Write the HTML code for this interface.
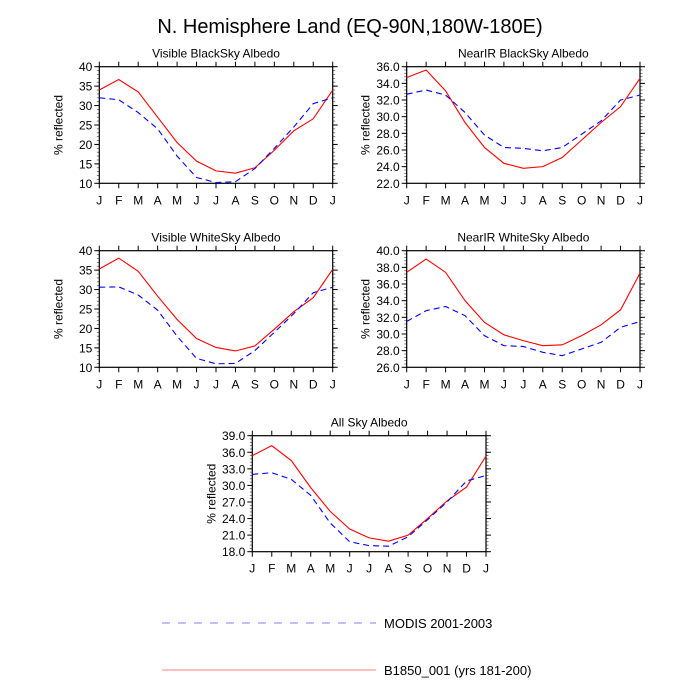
<!DOCTYPE html>
<html><head><meta charset="utf-8"><style>
body{margin:0;background:#fff}
svg{display:block;font-family:"Liberation Sans",sans-serif}
</style></head><body>
<svg id="chart" width="700" height="700" viewBox="0 0 700 700">
<text x="350" y="33" font-size="20" text-anchor="middle">N. Hemisphere Land (EQ-90N,180W-180E)</text>
<g id="panels"></g>
<g>
<line x1="162" y1="623" x2="376" y2="623" stroke="#8080ff" stroke-width="1" stroke-dasharray="8,8"/>
<text x="384" y="628" font-size="13">MODIS 2001-2003</text>
<line x1="162" y1="670" x2="376" y2="670" stroke="#ff8080" stroke-width="1"/>
<text x="384" y="675" font-size="13">B1850_001 (yrs 181-200)</text>
</g>
</svg>
<script>
const months = ["J","F","M","A","M","J","J","A","S","O","N","D","J"];
const visBlackModel = [34,36.7,33.5,27,20.5,15.7,13.2,12.6,14,18.5,23.5,26.6,34];
const visBlackModis = [32,31.5,28.2,24,17,11.5,10.2,10.4,13.8,19,24.5,30.5,32];
const nirBlackModel = [34.7,35.6,33.1,29.3,26.3,24.4,23.8,24.0,25.1,27.2,29.3,31.2,34.6];
const nirBlackModis = [32.7,33.2,32.6,30.5,27.8,26.3,26.2,25.9,26.3,27.9,29.5,32.0,32.6];
const visWhiteModel = [35.3,38.1,34.7,28.3,22.3,17.4,15.1,14.2,15.5,19.8,24.3,27.9,35.2];
const visWhiteModis = [30.6,30.7,28.6,24.7,18.0,12.3,10.9,11.0,14.3,19.0,23.8,29.2,30.6];
const nirWhiteModel = [37.4,39.0,37.4,34.0,31.4,29.9,29.2,28.6,28.7,29.8,31.1,32.9,37.3];
const nirWhiteModis = [31.5,32.8,33.3,32.2,29.8,28.6,28.5,27.8,27.4,28.2,29.0,30.8,31.5];
const allSkyModel = [35.4,37.2,34.5,29.6,25.3,22.1,20.5,19.9,21.0,24.0,27.2,29.7,35.3];
const allSkyModis = [32.0,32.3,31.1,28.2,23.2,19.8,19.1,19.0,20.7,23.8,27.0,30.8,31.8];
const ticksVis = [10,15,20,25,30,35,40];
const ticksNirB = [22,24,26,28,30,32,34,36];
const ticksNirW = [26,28,30,32,34,36,38,40];
const ticksAll = [18,21,24,27,30,33,36,39];

const NS="http://www.w3.org/2000/svg";
const root=document.getElementById('panels');
function mk(tag,attrs,parent){const e=document.createElementNS(NS,tag);for(const k in attrs)e.setAttribute(k,attrs[k]);parent.appendChild(e);return e;}

function panel(name,title,x0,x1,y0,y1,ticks,dec,minorStep,model,modis){
  const g=mk('g',{},root);
  
  
  const lo=ticks[0],hi=ticks[ticks.length-1];
  const xs=i=>x0+(x1-x0)*i/(months.length-1);
  const ys=v=>y1-(y1-y0)*(v-lo)/(hi-lo);
  const t=mk('text',{x:(x0+x1)/2,y:y0-9,'font-size':12,'text-anchor':'middle'},g);
  t.textContent=title;
  
  
  const yl=mk('text',{transform:`translate(${x0-37},${(y0+y1)/2}) rotate(-90)`,'font-size':12,'text-anchor':'middle'},g);
  yl.textContent='% reflected';
  
  
  for(let v=lo;v<=hi+1e-6;v+=minorStep){
    const y=ys(v);
    mk('line',{x1:x0-2.5,x2:x0,y1:y,y2:y,stroke:'#666','stroke-width':0.8},g);
    mk('line',{x1:x1,x2:x1+2.5,y1:y,y2:y,stroke:'#666','stroke-width':0.8},g);
  }
  ticks.forEach(v=>{
    const y=ys(v);
    mk('line',{x1:x0-5,x2:x0,y1:y,y2:y,stroke:'#000','stroke-width':1},g);
    mk('line',{x1:x1,x2:x1+5,y1:y,y2:y,stroke:'#000','stroke-width':1},g);
    const l=mk('text',{x:x0-7,y:y+4.5,'font-size':12,'text-anchor':'end'},g);
    l.textContent=v.toFixed(dec);
    
    
  });
  months.forEach((m,i)=>{
    const x=xs(i);
    mk('line',{x1:x,x2:x,y1:y1,y2:y1+5,stroke:'#000','stroke-width':1},g);
    mk('line',{x1:x,x2:x,y1:y0-5,y2:y0,stroke:'#000','stroke-width':1},g);
    const l=mk('text',{x:x,y:y1+21,'font-size':12,'text-anchor':'middle'},g);
    l.textContent=m;
    
    
  });
  mk('rect',{x:x0,y:y0,width:x1-x0,height:y1-y0,fill:'none',stroke:'#000','stroke-width':1.2},g);
  const pm=mk('polyline',{points:model.map((v,i)=>xs(i)+','+ys(v)).join(' '),fill:'none',stroke:'#ff0000','stroke-width':1.1},g);
  
  
  const pd=mk('polyline',{points:modis.map((v,i)=>xs(i)+','+ys(v)).join(' '),fill:'none',stroke:'#0000ff','stroke-width':1.1,'stroke-dasharray':'6,4'},g);
  
  
}
panel('panel-visible-blacksky','Visible BlackSky Albedo',99.3,332.7,66.7,183.3,ticksVis,0,1,visBlackModel,visBlackModis);
panel('panel-nearir-blacksky','NearIR BlackSky Albedo',406.7,640,66.7,183.3,ticksNirB,1,0.4,nirBlackModel,nirBlackModis);
panel('panel-visible-whitesky','Visible WhiteSky Albedo',99.3,332.7,250.7,367.3,ticksVis,0,1,visWhiteModel,visWhiteModis);
panel('panel-nearir-whitesky','NearIR WhiteSky Albedo',406.7,640,250.7,367.3,ticksNirW,1,0.4,nirWhiteModel,nirWhiteModis);
panel('panel-all-sky','All Sky Albedo',252.3,486,435.7,551.7,ticksAll,1,0.6,allSkyModel,allSkyModis);
</script>
</body></html>
